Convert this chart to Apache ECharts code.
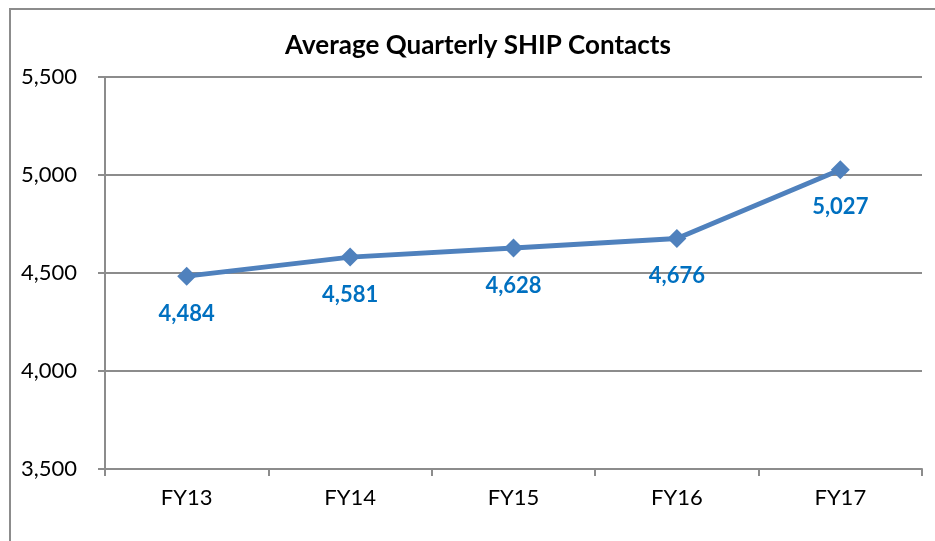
<!DOCTYPE html>
<html>
<head>
<meta charset="utf-8">
<script src="https://cdn.jsdelivr.net/npm/echarts@6/dist/echarts.min.js"></script>
<style>
html, body { margin: 0; padding: 0; background: #fff; }
#chart { width: 935px; height: 541px; }
</style>
</head>
<body>
<div id="chart"></div>
<script>
// data
var categories = ['FY13', 'FY14', 'FY15', 'FY16', 'FY17'];
var contacts = [4484, 4581, 4628, 4676, 5027];

var fmt = function (v) { return v.toLocaleString('en-US'); };
var grey = '#8c8c8c';

var myChart = echarts.init(document.getElementById('chart'));
var option = {
	backgroundColor: '#fff',
	title: {
		text: 'Average Quarterly SHIP Contacts',
		left: 473,
		textAlign: 'center',
		top: 28,
		textStyle: { fontFamily: 'Lato', fontWeight: 'bold', fontSize: 26, color: '#000' }
	},
	graphic: [{
		type: 'rect',
		shape: { x: 10, y: 9, width: 1000, height: 1000 },
		style: { fill: 'none', stroke: grey, lineWidth: 2 },
		silent: true
	}],
	grid: { left: 105, right: 13, top: 77, bottom: 72 },
	xAxis: {
		type: 'category',
		data: categories,
		boundaryGap: true,
		axisLine: { lineStyle: { color: grey, width: 2 } },
		axisTick: { show: true, length: 7, lineStyle: { color: grey, width: 2 } },
		axisLabel: { color: '#000', fontFamily: 'Lato', fontSize: 22, margin: 18 }
	},
	yAxis: {
		type: 'value',
		min: 3500,
		max: 5500,
		interval: 500,
		axisLine: { show: true, lineStyle: { color: grey, width: 2 } },
		axisTick: { show: true, length: 7, lineStyle: { color: grey, width: 2 } },
		splitLine: { lineStyle: { color: grey, width: 2 } },
		axisLabel: { color: '#000', fontFamily: 'Lato', fontSize: 22, margin: 28, formatter: fmt }
	},
	series: [{
		type: 'line',
		data: contacts,
		symbol: 'diamond',
		symbolSize: 19,
		lineStyle: { color: '#4f81bd', width: 5 },
		itemStyle: { color: '#4f81bd' },
		label: {
			show: true,
			position: 'bottom',
			distance: 17,
			color: '#0070c0',
			fontFamily: 'Lato',
			fontWeight: 'bold',
			fontSize: 22,
			formatter: function (p) { return fmt(p.value); }
		},
		animation: false
	}],
	animation: false
};
myChart.setOption(option);
</script>
</body>
</html>
